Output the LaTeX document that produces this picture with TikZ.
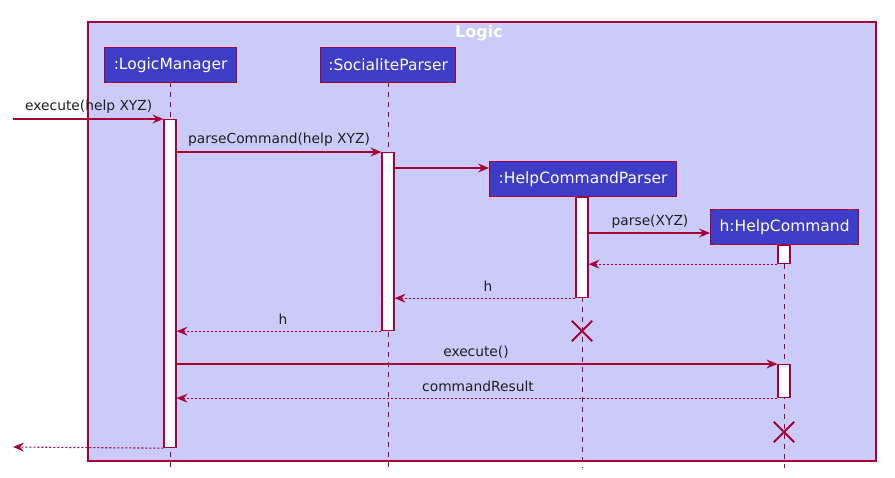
\documentclass[tikz,border=0pt]{standalone}
\usepackage{fontspec}
\setmainfont{DejaVu Sans}
\usetikzlibrary{arrows.meta}
\definecolor{umlred}{HTML}{A80036}
\definecolor{umlblue}{HTML}{3D3DC8}
\definecolor{framefill}{HTML}{CBCBFA}
\definecolor{msgtext}{HTML}{1F1F1F}
\tikzset{
  participant/.style={draw=umlred, fill=umlblue, line width=1.2pt, text=white,
    font=\fontsize{15.5}{17}\selectfont, inner sep=0pt, minimum height=35pt, anchor=north west},
  lifeline/.style={draw=umlred, line width=0.9pt, dash pattern=on 5pt off 5pt},
  actbar/.style={draw=umlred, fill=white, line width=1.2pt, minimum width=12pt, inner sep=0pt, anchor=north},
  msg/.style={draw=umlred, line width=1.1pt, -{Stealth[length=11pt, width=9pt, inset=4pt]}},
  reply/.style={msg, dash pattern=on 2pt off 2pt},
  msglabel/.style={text=msgtext, font=\fontsize{13.8}{15}\selectfont, inner sep=0pt},
  destroy/.style={draw=umlred, line width=1.8pt},
}
\begin{document}
\begin{tikzpicture}[x=1pt, y=-1pt]
\useasboundingbox (0,0) rectangle (895,478);
\fill[white] (0,0) rectangle (895,478);

% enclosing Logic frame
\draw[umlred, fill=framefill, line width=1.2pt] (88,22) rectangle (876,461);
\node[text=white, font=\bfseries\fontsize{16}{18}\selectfont] (title) at (479,33) {Logic};

% lifelines
\draw[lifeline] (170,82) -- (170,468);
\draw[lifeline] (388,82) -- (388,468);
\draw[lifeline] (582,197) -- (582,468);
\draw[lifeline] (784,244) -- (784,468);

% participants
\node[participant, minimum width=132pt] (lm) at (104,47) {:LogicManager};
\node[participant, minimum width=135pt] (sp) at (320,47) {:SocialiteParser};
\node[participant, minimum width=187pt] (hcp) at (489,161) {:HelpCommandParser};
\node[participant, minimum width=148pt] (hc) at (710,209) {h:HelpCommand};

% activation bars
\node[actbar, minimum height=328pt] (lmA) at (170,119) {};
\node[actbar, minimum height=178pt] (spA) at (388,152) {};
\node[actbar, minimum height=100pt] (hcpA) at (582,197) {};
\node[actbar, minimum height=18pt] (hcA) at (784,245) {};
\node[actbar, minimum height=33pt] (hcB) at (784,364) {};

% destruction marks
\node[minimum size=20pt, inner sep=0pt] (xhcp) at (582,331) {};
\draw[destroy] (xhcp.north west) -- (xhcp.south east) (xhcp.north east) -- (xhcp.south west);
\node[minimum size=20pt, inner sep=0pt] (xhc) at (784,432) {};
\draw[destroy] (xhc.north west) -- (xhc.south east) (xhc.north east) -- (xhc.south west);

% free ends of the found and lost messages
\coordinate (inStart) at (13,119);
\coordinate (outEnd) at (13,447);

% messages
\draw[msg] (inStart) -- (lmA.north west);
\node[msglabel, anchor=south west] (l1) at (25,114) {execute(help XYZ)};

\draw[msg] (lmA.east |- spA.north) -- (spA.north west);
\node[msglabel, anchor=south] (l2) at (279,147) {parseCommand(help XYZ)};

\draw[msg] (spA.east |- 0,168) -- (hcp.west |- 0,168);

\draw[msg] (hcpA.east |- 0,233) -- (hc.west |- 0,233);
\node[msglabel, anchor=south] (l3) at (650,229) {parse(XYZ)};

\draw[reply] (hcA.south west) -- (hcpA.east |- hcA.south);

\draw[reply] (hcpA.south west) -- (spA.east |- hcpA.south);
\node[msglabel, anchor=south] (l4) at (488,292) {h};

\draw[reply] (spA.south west) -- (lmA.east |- spA.south);
\node[msglabel, anchor=south] (l5) at (283,325) {h};

\draw[msg] (lmA.east |- hcB.north) -- (hcB.north west);
\node[msglabel, anchor=south] (l6) at (476,359) {execute()};

\draw[reply] (hcB.south west) -- (lmA.east |- hcB.south);
\node[msglabel, anchor=south] (l7) at (478,392) {commandResult};

\draw[reply] (lmA.south west) -- (outEnd);
\end{tikzpicture}
\end{document}
